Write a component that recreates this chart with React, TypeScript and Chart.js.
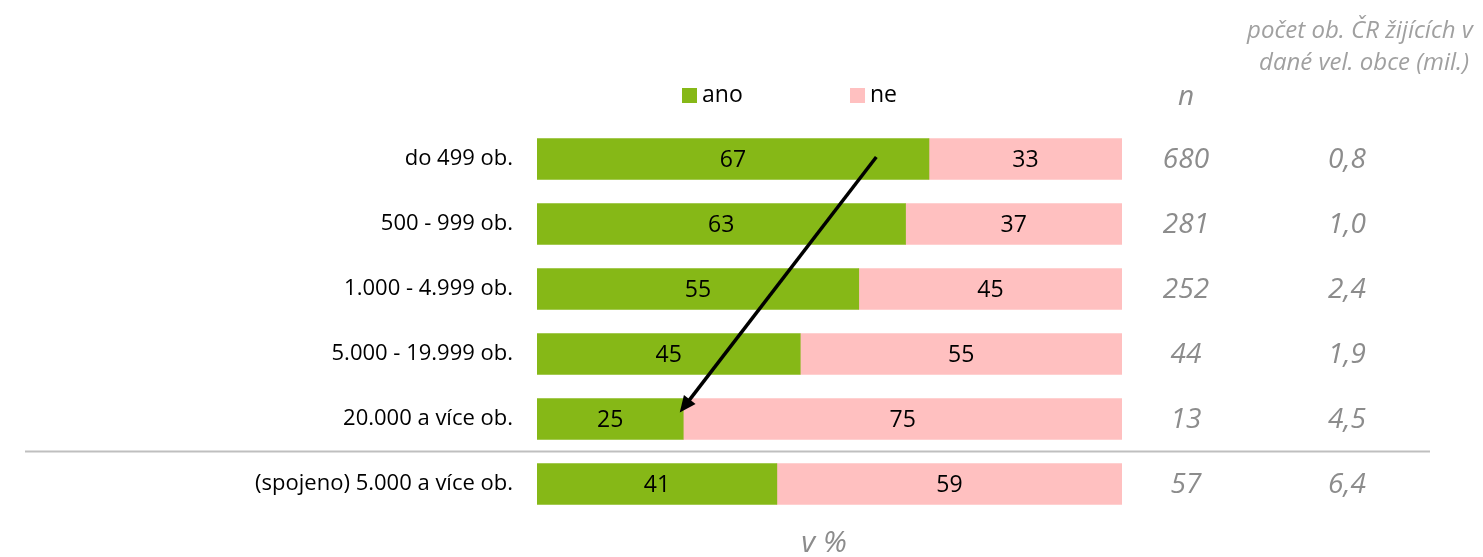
import React, { useEffect, useRef } from "react";
import { Chart, registerables } from "chart.js";

Chart.register(...registerables);

const categories = [
  "do 499 ob.",
  "500 - 999 ob.",
  "1.000 - 4.999 ob.",
  "5.000 - 19.999 ob.",
  "20.000 a více ob.",
  "(spojeno) 5.000 a více ob.",
];
const anoValues = [67, 63, 55, 45, 25, 41];
const neValues = [33, 37, 45, 55, 75, 59];
const nValues = ["680", "281", "252", "44", "13", "57"];
const popValues = ["0,8", "1,0", "2,4", "1,9", "4,5", "6,4"];
const seriesLabels = ["ano", "ne"];
const nHeader = "n";
const popHeader = ["počet ob. ČR žijících v", "dané vel. obce (mil.)"];
const unitLabel = "v %";
// arrow annotation in data units
const arrowFrom = { value: 58, cat: 0 - 0.03 };
const arrowTo = { value: 24.4, cat: 4 - 0.1 };

const GREEN = "#86b817";
const PINK = "#ffc0c0";
const GREY = "#8c8c8c";
const FONT = "'Open Sans', sans-serif";

const overlayPlugin = {
  id: "overlay",
  afterDatasetsDraw(chart: any) {
    const ctx = chart.ctx;
    const yScale = chart.scales.y;
    const xScale = chart.scales.x;
    ctx.save();

    // value labels inside bars
    ctx.font = `23px ${FONT}`;
    ctx.fillStyle = "#000";
    ctx.textAlign = "center";
    ctx.textBaseline = "middle";
    chart.data.datasets.forEach((ds: any, i: number) => {
      const meta = chart.getDatasetMeta(i);
      meta.data.forEach((bar: any, j: number) => {
        const cx = (bar.x + bar.base) / 2;
        ctx.fillText(String(ds.data[j]), cx, bar.y + 1);
      });
    });

    // n and population columns
    ctx.font = `italic 28px ${FONT}`;
    ctx.fillStyle = GREY;
    categories.forEach((_, j) => {
      const y = yScale.getPixelForValue(j);
      ctx.fillText(nValues[j], 1186, y + 1);
      ctx.fillText(popValues[j], 1347, y + 1);
    });

    // headers
    ctx.fillText(nHeader, 1186, 97);
    ctx.font = `italic 24px ${FONT}`;
    ctx.fillStyle = "#a0a0a0";
    ctx.fillText(popHeader[0], 1360, 31);
    ctx.fillText(popHeader[1], 1364, 63);

    // unit label
    ctx.font = `italic 30px ${FONT}`;
    ctx.fillStyle = GREY;
    ctx.fillText(unitLabel, 824, 543);

    // separator line
    const sepY = (yScale.getPixelForValue(4) + yScale.getPixelForValue(5)) / 2;
    ctx.strokeStyle = "#bfbfbf";
    ctx.lineWidth = 2;
    ctx.beginPath();
    ctx.moveTo(25, sepY);
    ctx.lineTo(1430, sepY);
    ctx.stroke();

    // arrow
    const x1 = xScale.getPixelForValue(arrowFrom.value);
    const y1 = yScale.getPixelForValue(arrowFrom.cat);
    const x2 = xScale.getPixelForValue(arrowTo.value);
    const y2 = yScale.getPixelForValue(arrowTo.cat);
    const ang = Math.atan2(y2 - y1, x2 - x1);
    const head = 18;
    const hx = x2 - head * 0.8 * Math.cos(ang);
    const hy = y2 - head * 0.8 * Math.sin(ang);
    ctx.strokeStyle = "#000";
    ctx.lineWidth = 3.5;
    ctx.beginPath();
    ctx.moveTo(x1, y1);
    ctx.lineTo(hx, hy);
    ctx.stroke();
    ctx.fillStyle = "#000";
    ctx.beginPath();
    ctx.moveTo(x2, y2);
    ctx.lineTo(x2 - head * Math.cos(ang - 0.42), y2 - head * Math.sin(ang - 0.42));
    ctx.lineTo(x2 - head * Math.cos(ang + 0.42), y2 - head * Math.sin(ang + 0.42));
    ctx.closePath();
    ctx.fill();

    // legend
    const legendX = [682, 850];
    chart.data.datasets.forEach((ds: any, i: number) => {
      ctx.fillStyle = ds.backgroundColor;
      ctx.fillRect(legendX[i], 88, 15, 15);
      ctx.fillStyle = "#000";
      ctx.font = `23px ${FONT}`;
      ctx.textAlign = "left";
      ctx.textBaseline = "middle";
      ctx.fillText(ds.label, legendX[i] + 20, 95);
    });

    ctx.restore();
  },
};

export default function App() {
  const ref = useRef<HTMLCanvasElement>(null);
  useEffect(() => {
    if (!ref.current) return;
    const chart = new Chart(ref.current, {
      type: "bar",
      data: {
        labels: categories,
        datasets: [
          { label: seriesLabels[0], data: anoValues, backgroundColor: GREEN, borderWidth: 0 },
          { label: seriesLabels[1], data: neValues, backgroundColor: PINK, borderWidth: 0 },
        ],
      },
      options: {
        indexAxis: "y",
        responsive: false,
        animation: false,
        layout: { padding: { left: 0, right: 361, top: 126.5, bottom: 40.5 } },
        plugins: { legend: { display: false }, tooltip: { enabled: false } },
        datasets: { bar: { barThickness: 41 } },
        scales: {
          x: { stacked: true, min: 0, max: 100, display: false },
          y: {
            stacked: true,
            grid: { display: false, drawTicks: false },
            border: { display: false },
            ticks: { color: "#000", font: { family: "'Open Sans', sans-serif", size: 22 }, padding: 24 },
            afterFit(scale: any) {
              scale.width = 537;
            },
          },
        },
      } as any,
      plugins: [overlayPlugin],
    });
    return () => chart.destroy();
  }, []);
  return (
    <div style={{ position: "absolute", left: 0, top: 0, width: 1483, height: 557, background: "#fff" }}>
      <canvas ref={ref} width={1483} height={557} />
    </div>
  );
}
